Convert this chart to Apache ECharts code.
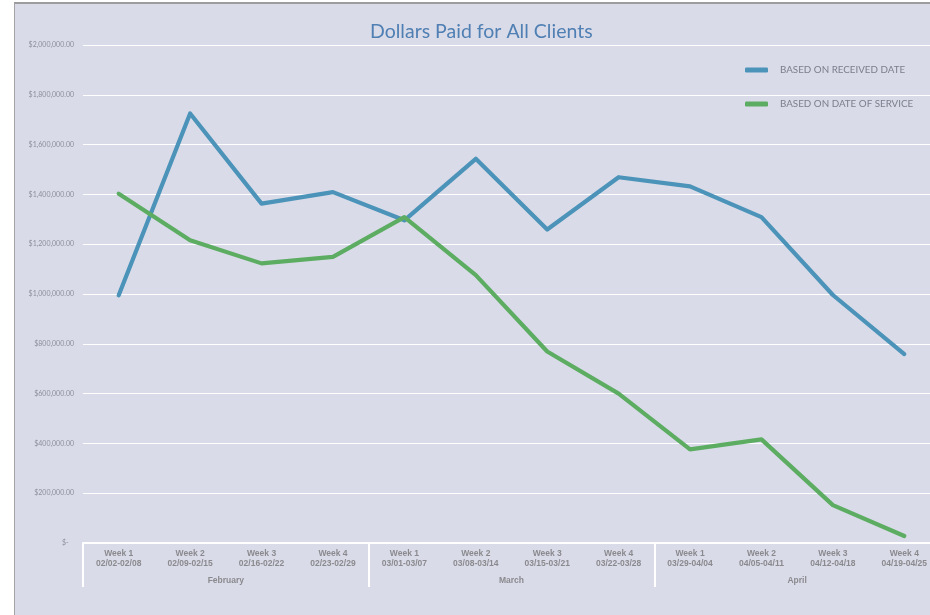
<!DOCTYPE html>
<html>
<head>
<meta charset="utf-8">
<script src="https://cdn.jsdelivr.net/npm/echarts@6/dist/echarts.min.js"></script>
<style>
    html, body { margin: 0; padding: 0; background: #fff; }
    #chart { width: 930px; height: 615px; }
</style>
</head>
<body>
<div id="chart"></div>
<script>
var weekList = ['Week 1', 'Week 2', 'Week 3', 'Week 4', 'Week 1', 'Week 2', 'Week 3', 'Week 4', 'Week 1', 'Week 2', 'Week 3', 'Week 4'];
var rangeList = ['02/02-02/08', '02/09-02/15', '02/16-02/22', '02/23-02/29', '03/01-03/07', '03/08-03/14',
    '03/15-03/21', '03/22-03/28', '03/29-04/04', '04/05-04/11', '04/12-04/18', '04/19-04/25'];
var monthList = ['February', 'March', 'April'];
var receivedList = [995000, 1725000, 1363000, 1409000, 1296000, 1543000, 1259000, 1469000, 1432000, 1309000, 996000, 759000];
var serviceList = [1403000, 1216000, 1123000, 1149000, 1309000, 1076000, 769000, 600000, 376000, 416000, 152000, 28000];
var seriesNames = ['BASED ON RECEIVED DATE', 'BASED ON DATE OF SERVICE'];

var categoryList = weekList.map(function (w, i) {
    return w + '\n' + rangeList[i];
});

function moneyFormat(v) {
    if (v == 0) {
        return '$-   ';
    }
    return '$' + v.toLocaleString('en-US') + '.00';
}

var chart = echarts.init(document.getElementById('chart'), null, {renderer: 'canvas'});

chart.setOption({
    backgroundColor: '#d9dbe8',
    animation: false,
    title: {
        text: 'Dollars Paid for All Clients',
        left: 365,
        top: 17,
        textStyle: {
            fontFamily: 'Lato',
            fontWeight: 'normal',
            fontSize: 19.5,
            color: '#4f7fb3'
        }
    },
    legend: {
        orient: 'vertical',
        left: 740,
        top: 60,
        itemGap: 24,
        itemWidth: 23,
        itemHeight: 5,
        icon: 'roundRect',
        data: seriesNames,
        textStyle: {
            fontFamily: 'Lato',
            fontSize: 9.8,
            color: '#7b7e8c',
            padding: [0, 0, 0, 7]
        }
    },
    graphic: [
        {type: 'rect', shape: {x: 0, y: 0, width: 930, height: 3}, style: {fill: '#fff'}, silent: true},
        {type: 'rect', shape: {x: 0, y: 0, width: 14, height: 615}, style: {fill: '#fff'}, silent: true},
        {type: 'line', shape: {x1: 14, y1: 3, x2: 930, y2: 3}, style: {stroke: '#9c9c9c', lineWidth: 2}, silent: true},
        {type: 'line', shape: {x1: 14.5, y1: 3, x2: 14.5, y2: 615}, style: {stroke: '#a4a4a4', lineWidth: 1}, silent: true}
    ],
    grid: {
        left: 83,
        top: 45,
        width: 857,
        height: 498,
        outerBoundsMode: 'none'
    },
    xAxis: [
        {
            type: 'category',
            data: categoryList,
            boundaryGap: true,
            axisLine: {show: true, lineStyle: {color: '#fff', width: 2}},
            axisTick: {show: false},
            axisLabel: {
                interval: 0,
                margin: 6,
                lineHeight: 10,
                fontFamily: 'Liberation Sans',
                fontWeight: 'bold',
                fontSize: 8.5,
                color: '#8a8a8e'
            }
        },
        {
            type: 'category',
            data: monthList,
            position: 'bottom',
            boundaryGap: true,
            axisLine: {show: false},
            axisTick: {show: true, length: 44, interval: 0, lineStyle: {color: '#fff', width: 2}},
            axisLabel: {
                interval: 0,
                margin: 33,
                fontFamily: 'Liberation Sans',
                fontWeight: 'bold',
                fontSize: 8.5,
                color: '#8a8a8e'
            }
        }
    ],
    yAxis: {
        type: 'value',
        min: 0,
        max: 2000000,
        interval: 200000,
        axisLine: {show: false},
        axisTick: {show: false},
        splitLine: {lineStyle: {color: '#fff', width: 1}},
        axisLabel: {
            margin: 9,
            formatter: moneyFormat,
            fontFamily: 'Lato',
            fontSize: 7,
            color: '#8c8f9c'
        }
    },
    series: [
        {
            name: seriesNames[0],
            type: 'line',
            data: receivedList,
            symbol: 'none',
            color: '#4b93b9',
            lineStyle: {width: 4.2, cap: 'round', join: 'round'}
        },
        {
            name: seriesNames[1],
            type: 'line',
            data: serviceList,
            symbol: 'none',
            color: '#5cad62',
            lineStyle: {width: 4.2, cap: 'round', join: 'round'}
        }
    ]
});
</script>
</body>
</html>
